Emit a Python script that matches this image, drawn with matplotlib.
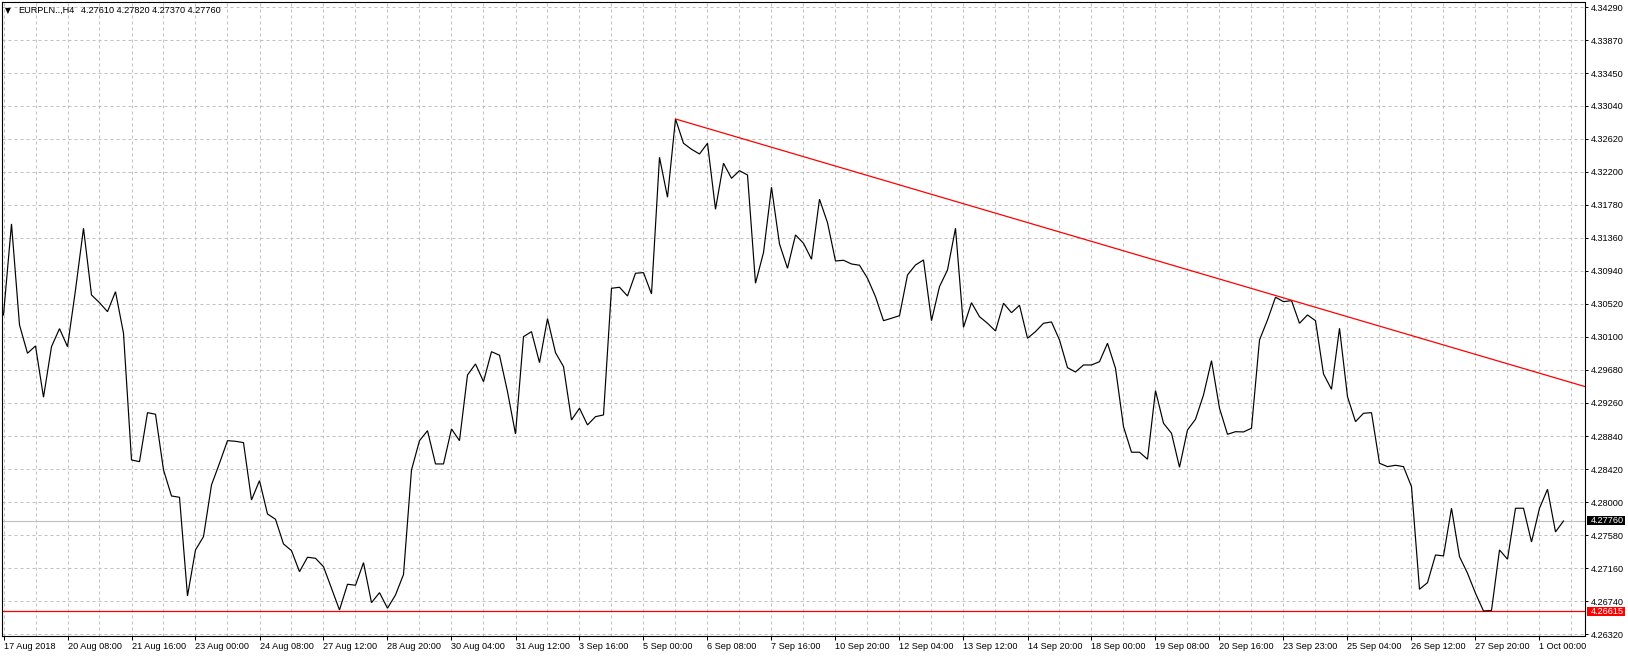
import matplotlib
matplotlib.use("Agg")
import matplotlib.pyplot as plt
from matplotlib.ticker import FixedLocator, MultipleLocator, NullFormatter
from matplotlib.patches import Rectangle
import matplotlib.transforms as mtransforms

# ---------------- data ----------------
closes = [
    4.30379, 4.31536, 4.30252, 4.29892, 4.29985, 4.29333, 4.29976, 4.30205, 4.29976, 4.30697,
    4.31481, 4.30633, 4.30535, 4.30421, 4.30675, 4.30146, 4.28536, 4.28514, 4.29137, 4.29117,
    4.28409, 4.28078, 4.28061, 4.26807, 4.27392, 4.27561, 4.28218, 4.28494, 4.28781, 4.28773,
    4.28756, 4.28027, 4.28273, 4.27849, 4.27782, 4.27468, 4.27383, 4.27116, 4.27299, 4.27286,
    4.27179, 4.26905, 4.26629, 4.26956, 4.26943, 4.27230, 4.26722, 4.26849, 4.26651, 4.26820,
    4.27080, 4.28409, 4.28781, 4.28908, 4.28485, 4.28485, 4.28930, 4.28781, 4.29616, 4.29756,
    4.29531, 4.29912, 4.29867, 4.29404, 4.28866, 4.30103, 4.30167, 4.29773, 4.30332, 4.29900,
    4.29722, 4.29044, 4.29193, 4.28981, 4.29086, 4.29108, 4.30718, 4.30731, 4.30620, 4.30909,
    4.30917, 4.30646, 4.32383, 4.31875, 4.32870, 4.32561, 4.32485, 4.32425, 4.32561, 4.31722,
    4.32307, 4.32116, 4.32213, 4.32158, 4.30782, 4.31171, 4.32002, 4.31281, 4.30972, 4.31396,
    4.31290, 4.31087, 4.31850, 4.31552, 4.31065, 4.31074, 4.31027, 4.31011, 4.30845, 4.30611,
    4.30306, 4.30337, 4.30370, 4.30887, 4.31014, 4.31078, 4.30306, 4.30739, 4.30951, 4.31481,
    4.30222, 4.30535, 4.30357, 4.30273, 4.30175, 4.30528, 4.30408, 4.30502, 4.30083, 4.30167,
    4.30273, 4.30290, 4.30061, 4.29709, 4.29654, 4.29743, 4.29743, 4.29785, 4.30019, 4.29701,
    4.28959, 4.28634, 4.28634, 4.28545, 4.29417, 4.29002, 4.28875, 4.28443, 4.28917, 4.29053,
    4.29362, 4.29798, 4.29193, 4.28862, 4.28895, 4.28892, 4.28939, 4.30061, 4.30315, 4.30604,
    4.30548, 4.30561, 4.30273, 4.30379, 4.30306, 4.29629, 4.29434, 4.30210, 4.29340, 4.29023,
    4.29129, 4.29137, 4.28494, 4.28451, 4.28468, 4.28451, 4.28196, 4.26892, 4.26976, 4.27328,
    4.27316, 4.27922, 4.27307, 4.27096, 4.26841, 4.26616, 4.26623, 4.27392, 4.27274, 4.27922,
    4.27922, 4.27493, 4.27922, 4.28163, 4.27621, 4.27760,
]

x_labels = [
    "17 Aug 2018", "20 Aug 08:00", "21 Aug 16:00", "23 Aug 00:00", "24 Aug 08:00",
    "27 Aug 12:00", "28 Aug 20:00", "30 Aug 04:00", "31 Aug 12:00", "3 Sep 16:00",
    "5 Sep 00:00", "6 Sep 08:00", "7 Sep 16:00", "10 Sep 20:00", "12 Sep 04:00",
    "13 Sep 12:00", "14 Sep 20:00", "18 Sep 00:00", "19 Sep 08:00", "20 Sep 16:00",
    "23 Sep 23:00", "25 Sep 04:00", "26 Sep 12:00", "27 Sep 20:00", "1 Oct 00:00",
]
bars_per_label = 8

y_labels = [
    "4.34290", "4.33870", "4.33450", "4.33040", "4.32620", "4.32200", "4.31780",
    "4.31360", "4.30940", "4.30520", "4.30100", "4.29680", "4.29260", "4.28840",
    "4.28420", "4.28000", "4.27580", "4.27160", "4.26740", "4.26320",
]

trend_bars = [84, 160]
trend_prices = [4.32870, 4.30596]
support_level = 4.26615
current_price = 4.27760

symbol_text = "EURPLN..,H4"
ohlc_text = "4.27610 4.27820 4.27370 4.27760"

# ---------------- figure ----------------
W, H = 1628, 658
fig = plt.figure(figsize=(W / 100, H / 100), dpi=100)
fig.patch.set_facecolor("white")

ax_left, ax_right, ax_top, ax_bottom = 2, 1584.5, 2, 636
ax = fig.add_axes([ax_left / W, (H - ax_bottom) / H,
                   (ax_right - ax_left) / W, (ax_bottom - ax_top) / H])
ax.set_facecolor("white")

FONT = "Liberation Sans"
FS = 6.55
GRID = "#c0c0c0"

ax.set_xlim(-0.1875, 197.625)
ax.set_ylim(4.26298, 4.34357)

# grid
ax.xaxis.set_major_locator(FixedLocator([i * bars_per_label for i in range(len(x_labels))]))
ax.xaxis.set_minor_locator(MultipleLocator(bars_per_label // 2))
ax.set_xticklabels(x_labels)
ax.xaxis.set_minor_formatter(NullFormatter())
yvals = [float(v) for v in y_labels]
ax.yaxis.set_major_locator(FixedLocator(yvals))
ax.set_yticklabels(y_labels)
ax.yaxis.tick_right()

ax.grid(True, axis="x", which="both", color=GRID, lw=0.72, linestyle=(0, (3, 3)), zorder=0)
ax.grid(True, axis="y", which="major", color=GRID, lw=0.72, linestyle=(0, (3, 3)), zorder=0)
ax.set_axisbelow(True)

ax.tick_params(axis="x", which="major", length=3, width=0.72, color="black", pad=1.2,
               labelsize=FS, labelcolor="black")
ax.tick_params(axis="x", which="minor", length=0)
ax.tick_params(axis="y", which="major", length=2.2, width=0.72, color="black", pad=2.3,
               labelsize=FS, labelcolor="black")
for lab in ax.get_xticklabels():
    lab.set_horizontalalignment("left")
    lab.set_fontfamily(FONT)
for lab in ax.get_yticklabels():
    lab.set_fontfamily(FONT)

for sp in ax.spines.values():
    sp.set_color("black")
    sp.set_linewidth(0.8)

# current price (grey) and support (red) lines
ax.axhline(current_price, color=GRID, lw=0.8, zorder=1)
ax.axhline(support_level, color="#ff0000", lw=0.9, zorder=2)

# price line
ax.plot(range(len(closes)), closes, color="black", lw=0.85, zorder=3,
        solid_joinstyle="miter")

# trendline ray from first anchor to the right edge
slope = (trend_prices[1] - trend_prices[0]) / (trend_bars[1] - trend_bars[0])
x_end = ax.get_xlim()[1]
ax.plot([trend_bars[0], x_end],
        [trend_prices[0], trend_prices[0] + slope * (x_end - trend_bars[0])],
        color="#ff0000", lw=0.9, zorder=4, clip_on=True)

# right-axis price boxes
ppu = (ax_bottom - ax_top) / (ax.get_ylim()[1] - ax.get_ylim()[0])
blend = mtransforms.blended_transform_factory(fig.transFigure, ax.transData)
for price, face in [(current_price, "black"), (support_level, "#ff0000")]:
    h = 9.0 / ppu
    rect = Rectangle((1586.5 / W, price - h / 2), 38.5 / W, h, transform=blend,
                     facecolor=face, edgecolor="none", clip_on=False, zorder=10)
    fig.add_artist(rect)
    fig.text(1590.5 / W, price, f"{price:.5f}", transform=blend, color="white",
             fontsize=FS, family=FONT, ha="left", va="center", zorder=11)

# title
ty = 1 - 10.7 / H
fig.text(7.5 / W, ty, "\u25bc", fontsize=5.5, family=["DejaVu Sans"], ha="center",
         va="center", color="black")
fig.text(18 / W, ty, symbol_text, fontsize=FS, family=FONT, ha="left", va="center")
fig.text(81 / W, ty, ohlc_text, fontsize=FS, family=FONT, ha="left", va="center")

fig.savefig("out.png", dpi=100, facecolor="white")
